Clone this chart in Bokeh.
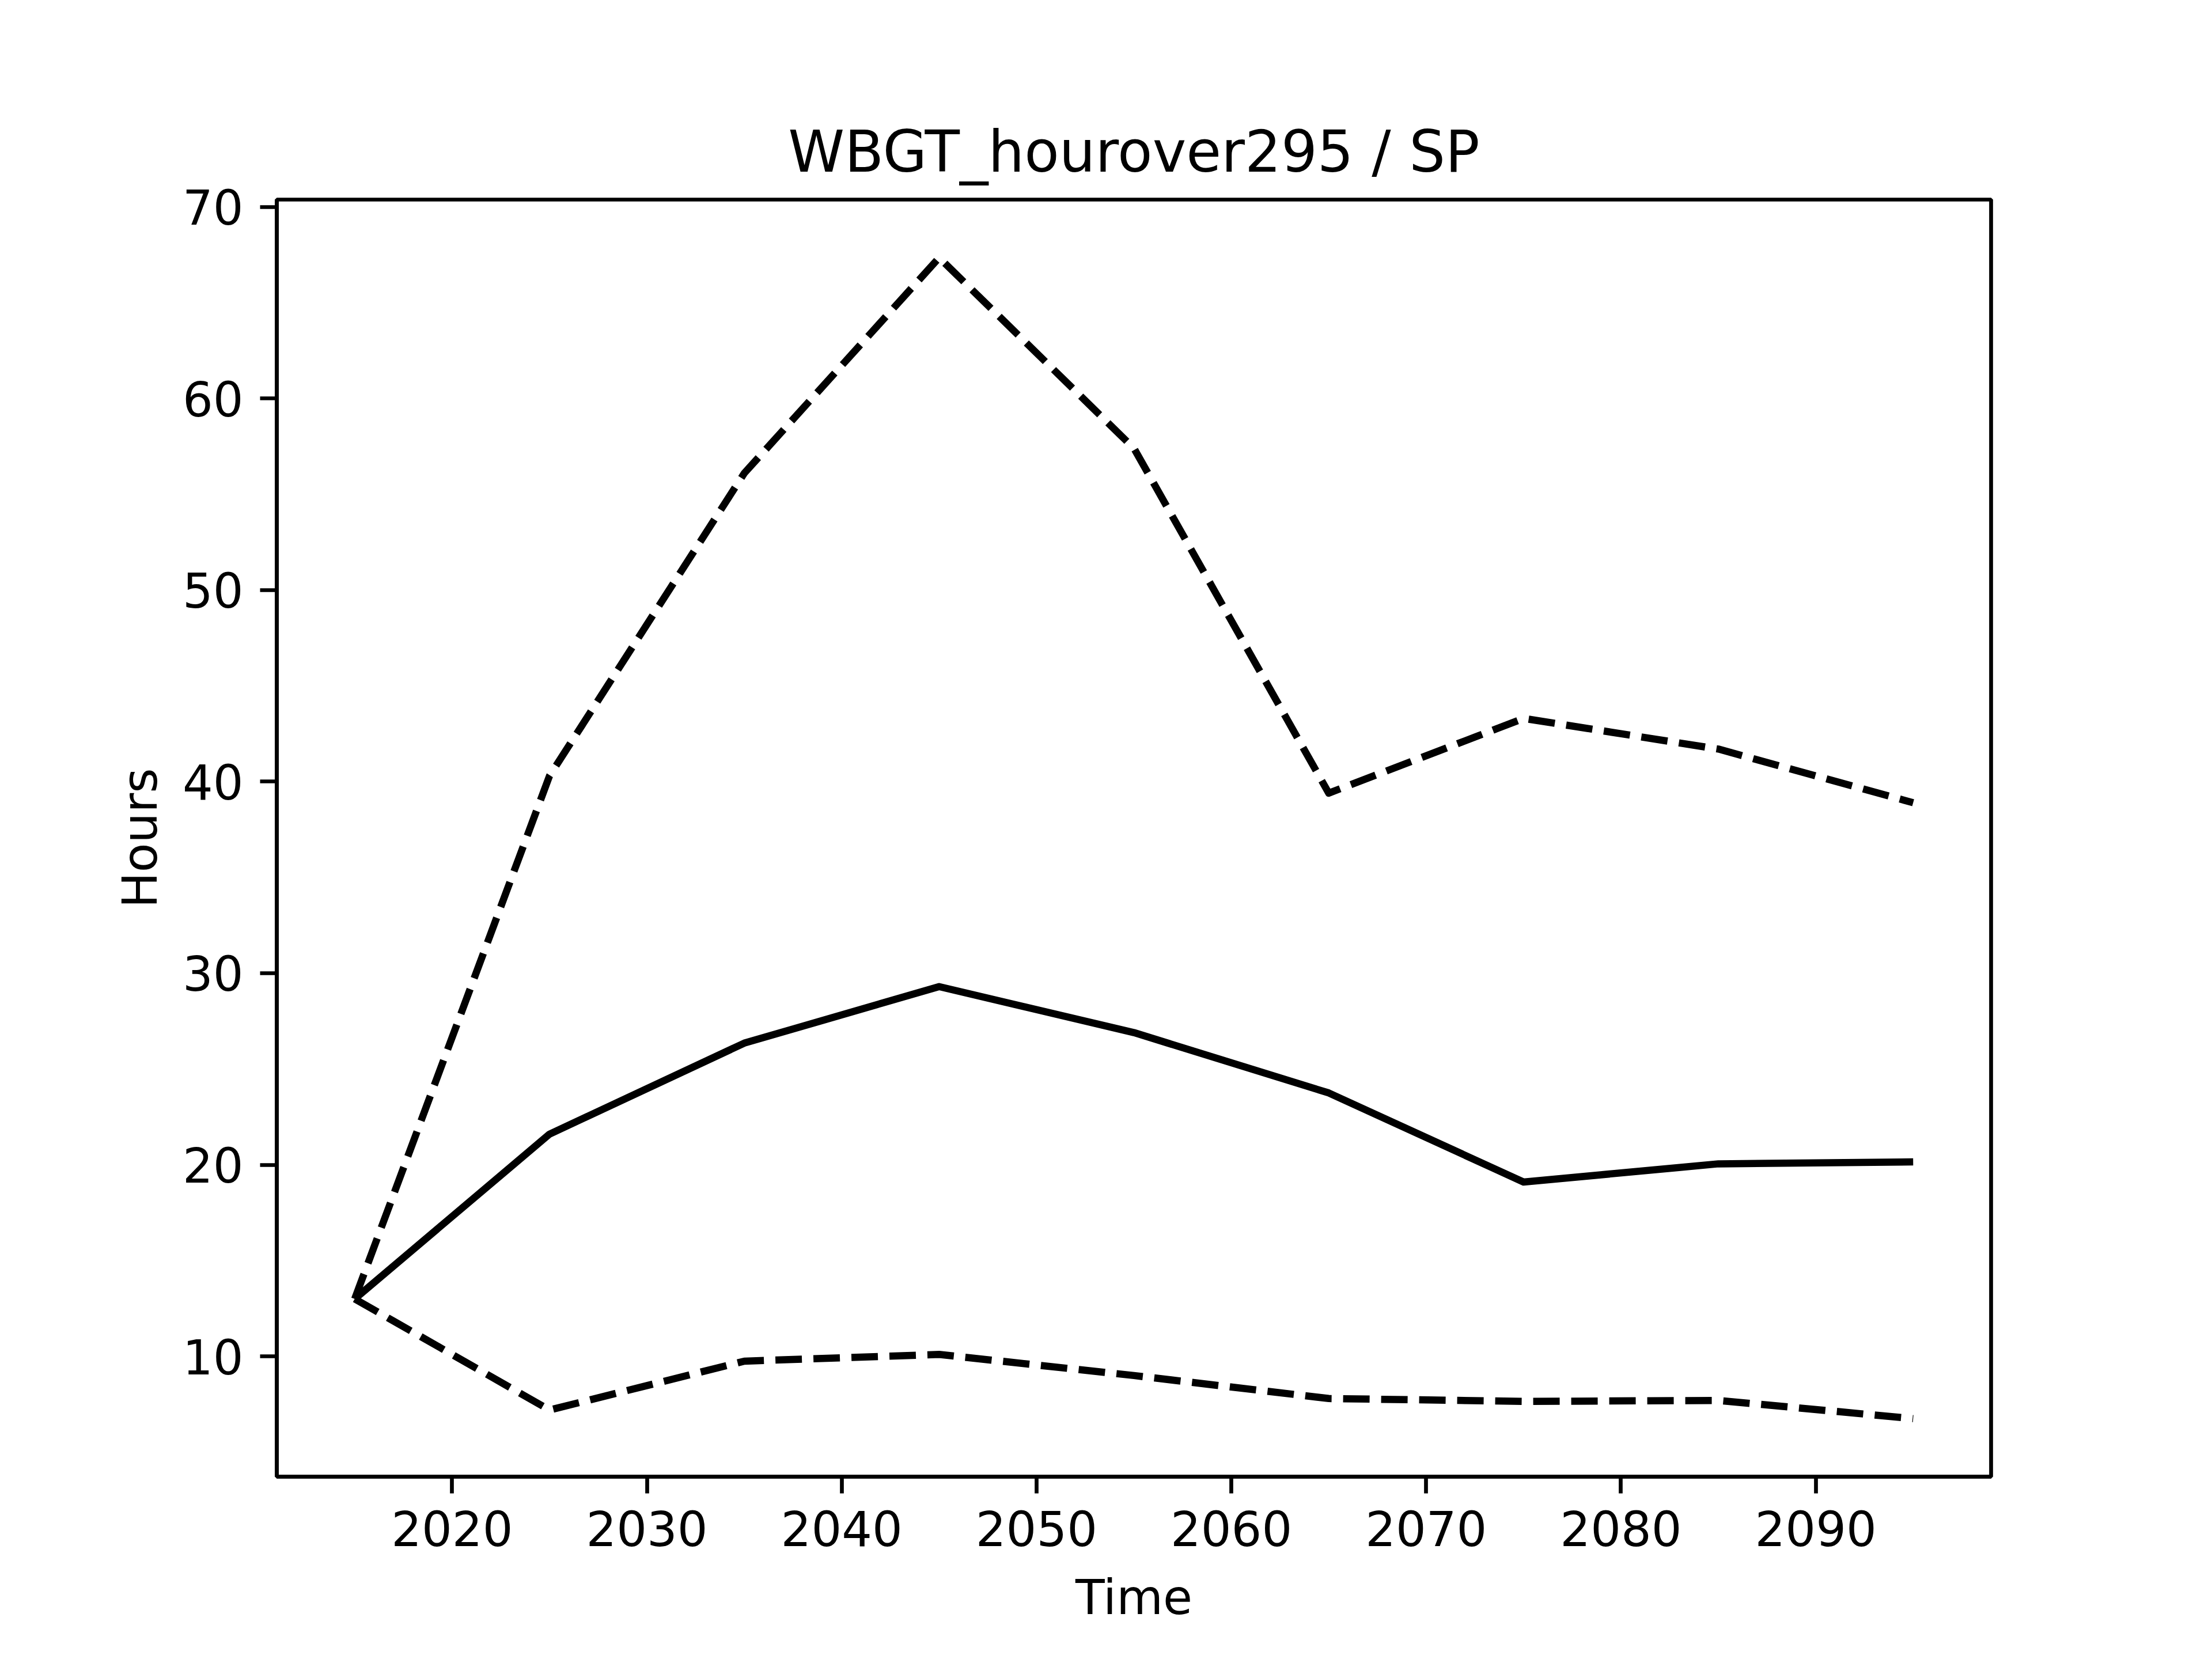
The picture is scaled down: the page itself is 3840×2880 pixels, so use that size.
from bokeh.plotting import figure
from bokeh.models import FixedTicker, Range1d, LinearAxis
from bokeh.embed import file_html
from bokeh.resources import INLINE

# Data
years = [2015, 2025, 2035, 2045, 2055, 2065, 2075, 2085, 2095]
mean_hours = [13.0, 21.6, 26.35, 29.3, 26.9, 23.75, 19.1, 20.05, 20.15]
upper_hours = [13.0, 40.3, 56.1, 67.35, 57.4, 39.4, 43.3, 41.7, 38.9]
lower_hours = [13.0, 7.2, 9.75, 10.1, 9.0, 7.8, 7.65, 7.7, 6.75]
x_ticks = [2020, 2030, 2040, 2050, 2060, 2070, 2080, 2090]
y_ticks = [10, 20, 30, 40, 50, 60, 70]

title_text = "WBGT_hourover295 / SP"
x_label = "Time"
y_label = "Hours"

FONT = "DejaVu Sans"
FS = "83px"

xmin, xmax = min(years), max(years)
xpad = 0.05 * (xmax - xmin)
all_y = mean_hours + upper_hours + lower_hours
ymin, ymax = min(all_y), max(all_y)
ypad = 0.05 * (ymax - ymin)

W, H = 3824, 2864
FL, FT = 480, 346
FR, FB = 3456, 2563
p = figure(
    width=W, height=H,
    output_backend="svg", toolbar_location=None,
    x_range=Range1d(xmin - xpad, xmax + xpad),
    y_range=Range1d(ymin - ypad, ymax + ypad),
    min_border_left=FL, min_border_right=W - FR,
    min_border_top=FT, min_border_bottom=H - FB,
)

p.background_fill_color = "white"
p.border_fill_color = "white"
p.outline_line_color = "black"
p.outline_line_width = 6.7
p.xgrid.visible = False
p.ygrid.visible = False

for ax, ticks, lab in ((p.xaxis[0], x_ticks, x_label), (p.yaxis[0], y_ticks, y_label)):
    ax.ticker = FixedTicker(ticks=ticks)
    ax.minor_tick_line_color = None
    ax.major_tick_out = 29
    ax.major_tick_in = 0
    ax.major_tick_line_width = 6.7
    ax.major_tick_line_color = "black"
    ax.axis_line_width = 6.7
    ax.axis_line_color = "black"
    ax.major_label_text_font = FONT
    ax.major_label_text_font_size = FS
    ax.major_label_text_color = "black"
    ax.major_label_standoff = 29
    ax.axis_label = lab
    ax.axis_label_text_font = FONT
    ax.axis_label_text_font_size = FS
    ax.axis_label_text_font_style = "normal"
    ax.axis_label_text_color = "black"
p.xaxis[0].axis_label_standoff = 38
p.yaxis[0].axis_label_standoff = 22

# title drawn as the label of a bare axis above the frame
title_axis = LinearAxis(
    ticker=FixedTicker(ticks=[]),
    axis_line_color=None,
    major_tick_line_color=None,
    minor_tick_line_color=None,
    major_tick_out=0, major_tick_in=0,
    major_label_standoff=0,
    axis_label=title_text,
    axis_label_text_font=FONT,
    axis_label_text_font_size="99px",
    axis_label_text_font_style="normal",
    axis_label_text_color="black",
    axis_label_standoff=26,
)
p.add_layout(title_axis, "above")

LW = 12.5
DASH = "46 20"
p.line(years, upper_hours, line_color="black", line_width=LW, line_dash=DASH, line_join="round")
p.line(years, lower_hours, line_color="black", line_width=LW, line_dash=DASH, line_join="round")
p.line(years, mean_hours, line_color="black", line_width=LW, line_join="round")

open("out.html", "w").write(file_html(p, INLINE))
